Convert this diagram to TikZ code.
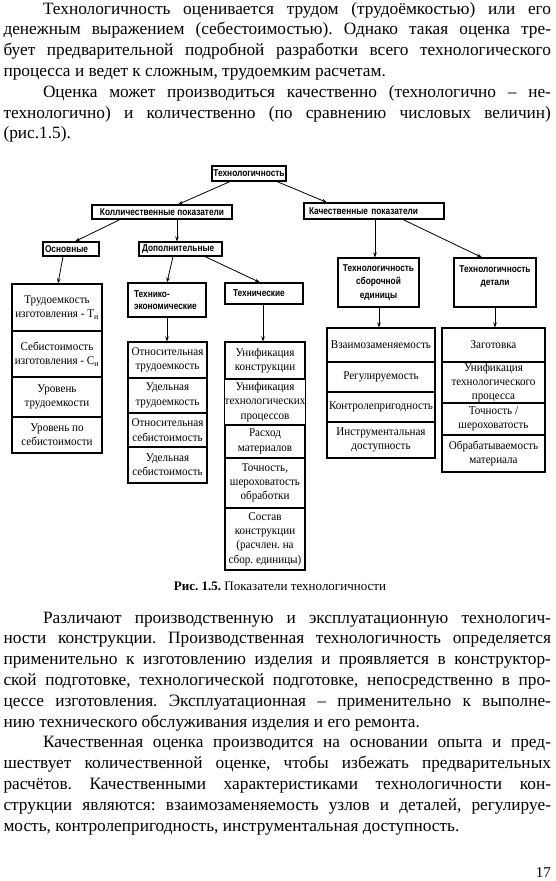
\documentclass[tikz,border=0pt]{standalone}
\usepackage{fontspec}
\setmainfont{Liberation Serif}
\newfontfamily\dsans[FakeStretch=0.84]{Liberation Sans}
\newfontfamily\cserif[FakeStretch=0.94]{Liberation Serif}
\usetikzlibrary{arrows.meta,calc}
\frenchspacing
\newcommand\bodyfont{\fontsize{17.3}{20.8}\selectfont}
\newcommand\cellfont{\cserif\fontsize{11.8}{14.3}\selectfont}
\newcommand\hfont{\dsans\bfseries\fontsize{9.9}{12}\selectfont}
\newcommand\jl[2]{\makebox[#1][s]{#2}}
\tikzset{
  bl/.style={anchor=base west, inner sep=0pt, outer sep=0pt, font=\bodyfont},
  hbox/.style={draw, line width=1.1pt, inner sep=0pt, font=\hfont},
  cell/.style={draw, line width=1.1pt, inner sep=0pt, align=center, font=\cellfont},
  arr/.style={-{Stealth[length=5pt,width=3.6pt]}, line width=0.8pt},
}
\begin{document}
\begin{tikzpicture}[x=1pt,y=-1pt]
\useasboundingbox (0,0) rectangle (556,881);
\fill[white] (0,0) rectangle (556,881);
% ---------- top paragraphs
\node[bl] (t1) at (43,14) {\jl{508pt}{Технологичность оценивается трудом (трудоёмкостью) или его}};
\node[bl] (t2) at (3.5,34.8) {\jl{547.5pt}{денежным выражением (себестоимостью). Однако такая оценка тре-}};
\node[bl] (t3) at (3.5,55.6) {\jl{547.5pt}{бует предварительной подробной разработки всего технологического}};
\node[bl] (t4) at (3.5,76.4) {процесса и ведет к сложным, трудоемким расчетам.};
\node[bl] (t5) at (43,97.2) {\jl{508pt}{Оценка может производиться качественно (технологично – не-}};
\node[bl] (t6) at (3.5,118) {\jl{547.5pt}{технологично) и количественно (по сравнению числовых величин)}};
\node[bl] (t7) at (3.5,138.8) {(рис.1.5).};
% ---------- diagram headers
\node[hbox, minimum width=74pt, minimum height=15pt] (tech) at (249,173.5) {Технологичность};
\node[hbox, minimum width=140pt, minimum height=14pt] (kol) at (162,212) {Колличественные показатели};
\node[hbox, minimum width=140pt, minimum height=16pt, text width=130pt, align=left] (kach) at (374,211) {Качественные показатели};
\node[hbox, minimum width=56pt, minimum height=14pt, text width=52pt, align=left] (osn) at (71,249) {Основные};
\node[hbox, minimum width=83pt, minimum height=14pt, text width=77pt, align=left] (dop) at (180.5,249) {Дополнительные};
\node[hbox, minimum width=78pt, minimum height=34pt, text width=66pt, align=left] (te) at (167,300) {Технико-\\экономические};
\node[hbox, minimum width=78pt, minimum height=21pt, text width=62pt, align=left] (tn) at (264,293.5) {Технические};
\node[hbox, minimum width=81pt, minimum height=49pt, align=center, font=\hfont\fontsize{9.9}{13.5}\selectfont] (ts) at (378.5,282.5) {Технологичность\\сборочной\\единицы};
\node[hbox, minimum width=82pt, minimum height=49pt, align=center, font=\hfont\fontsize{9.9}{13.5}\selectfont] (td) at (495,282.5) {Технологичность\\детали\\\mbox{}};
% ---------- left column
\node[cell, minimum width=90pt, minimum height=47pt] (l1) at (57,307.5) {Трудоемкость\\изготовления - Т\textsubscript{и}};
\node[cell, minimum width=90pt, minimum height=46pt] (l2) at (57,354) {Себистоимость\\изготовления - С\textsubscript{и}};
\node[cell, minimum width=90pt, minimum height=40pt] (l3) at (57,397) {Уровень\\трудоемкости};
\node[cell, minimum width=90pt, minimum height=36pt] (l4) at (57,435) {Уровень по\\себистоимости};
% ---------- techno-economic column
\node[cell, minimum width=79pt, minimum height=36pt] (e1) at (167.5,360) {Относительная\\трудоемкость};
\node[cell, minimum width=79pt, minimum height=35pt] (e2) at (167.5,395.5) {Удельная\\трудоемкость};
\node[cell, minimum width=79pt, minimum height=34pt] (e3) at (167.5,430) {Относительная\\себистоимость};
\node[cell, minimum width=79pt, minimum height=36pt] (e4) at (167.5,465) {Удельная\\себистоимость};
% ---------- technical column
\node[cell, minimum width=80pt, minimum height=37pt] (c1) at (265,360.5) {Унификация\\конструкции};
\node[cell, minimum width=80pt, minimum height=46pt] (c2) at (265,402) {Унификация\\технологических\\процессов};
\node[cell, minimum width=80pt, minimum height=33pt] (c3) at (265,441.5) {Расход\\материалов};
\node[cell, minimum width=80pt, minimum height=50pt] (c4) at (265,483) {Точность,\\шероховатость\\обработки};
\node[cell, minimum width=80pt, minimum height=62pt] (c5) at (265,539) {Состав\\конструкции\\(расчлен. на\\сбор. единицы)};
% ---------- assembly column
\node[cell, minimum width=108pt, minimum height=34pt] (s1) at (381,345) {Взаимозаменяемость};
\node[cell, minimum width=108pt, minimum height=30pt] (s2) at (381,377) {Регулируемость};
\node[cell, minimum width=108pt, minimum height=30pt] (s3) at (381,407) {Контролепригодность};
\node[cell, minimum width=108pt, minimum height=36pt] (s4) at (381,440) {Инструментальная\\доступность};
% ---------- part column
\node[cell, minimum width=103pt, minimum height=34pt] (d1) at (493.5,345) {Заготовка};
\node[cell, minimum width=103pt, minimum height=41pt] (d2) at (493.5,382.5) {Унификация\\технологического\\процесса};
\node[cell, minimum width=103pt, minimum height=32pt] (d3) at (493.5,419) {Точность /\\шероховатость};
\node[cell, minimum width=103pt, minimum height=37pt] (d4) at (493.5,453.5) {Обрабатываемость\\материала};
% ---------- arrows
\draw[arr] ([xshift=-19pt]tech.south) -- ([xshift=16pt]kol.north);
\draw[arr] ([xshift=28pt]tech.south) -- ([xshift=-47pt]kach.north);
\draw[arr] ([xshift=-42pt]kol.south) -- ([xshift=4pt]osn.north);
\draw[arr] ([xshift=15pt]kol.south) -- ([xshift=-3.5pt]dop.north);
\draw[arr] ([xshift=-8pt]osn.south) -- ([xshift=1pt]l1.north);
\draw[arr] ([xshift=-7.5pt]dop.south) -- (te.north);
\draw[arr] ([xshift=24.5pt]dop.south) -- ([xshift=-4pt]tn.north);
\draw[arr] (te.south) -- ([xshift=-0.5pt]e1.north);
\draw[arr] ([xshift=-1pt]tn.south) -- ([xshift=-2pt]c1.north);
\draw[arr] ([xshift=1pt]kach.south) -- ([xshift=-3.5pt]ts.north);
\draw[arr] ([xshift=29pt]kach.south) -- ([xshift=-13pt]td.north);
\draw[arr] ([xshift=0.5pt]ts.south) -- ([xshift=-2pt]s1.north);
\draw[arr] (td.south) -- ([xshift=1.5pt]d1.north);
% ---------- caption
\node[anchor=base, inner sep=0pt, font=\fontsize{13}{15}\selectfont] (cap) at (280,590) {\textbf{Рис. 1.5.} Показатели технологичности};
% ---------- bottom paragraphs
\node[bl] (b1) at (43,623) {\jl{508pt}{Различают производственную и эксплуатационную технологич-}};
\node[bl] (b2) at (3.5,643.8) {\jl{547.5pt}{ности конструкции. Производственная технологичность определяется}};
\node[bl] (b3) at (3.5,664.6) {\jl{547.5pt}{применительно к изготовлению изделия и проявляется в конструктор-}};
\node[bl] (b4) at (3.5,685.4) {\jl{547.5pt}{ской подготовке, технологической подготовке, непосредственно в про-}};
\node[bl] (b5) at (3.5,706.2) {\jl{547.5pt}{цессе изготовления. Эксплуатационная – применительно к выполне-}};
\node[bl] (b6) at (3.5,727) {нию технического обслуживания изделия и его ремонта.};
\node[bl] (b7) at (43,747.8) {\jl{508pt}{Качественная оценка производится на основании опыта и пред-}};
\node[bl] (b8) at (3.5,768.6) {\jl{547.5pt}{шествует количественной оценке, чтобы избежать предварительных}};
\node[bl] (b9) at (3.5,789.4) {\jl{547.5pt}{расчётов. Качественными характеристиками технологичности кон-}};
\node[bl] (b10) at (3.5,810.2) {\jl{547.5pt}{струкции являются: взаимозаменяемость узлов и деталей, регулируе-}};
\node[bl] (b11) at (3.5,831) {мость, контролепригодность, инструментальная доступность.};
\node[anchor=base east, inner sep=0pt, font=\fontsize{15}{17}\selectfont] (pg) at (551,877) {17};
\end{tikzpicture}
\end{document}
